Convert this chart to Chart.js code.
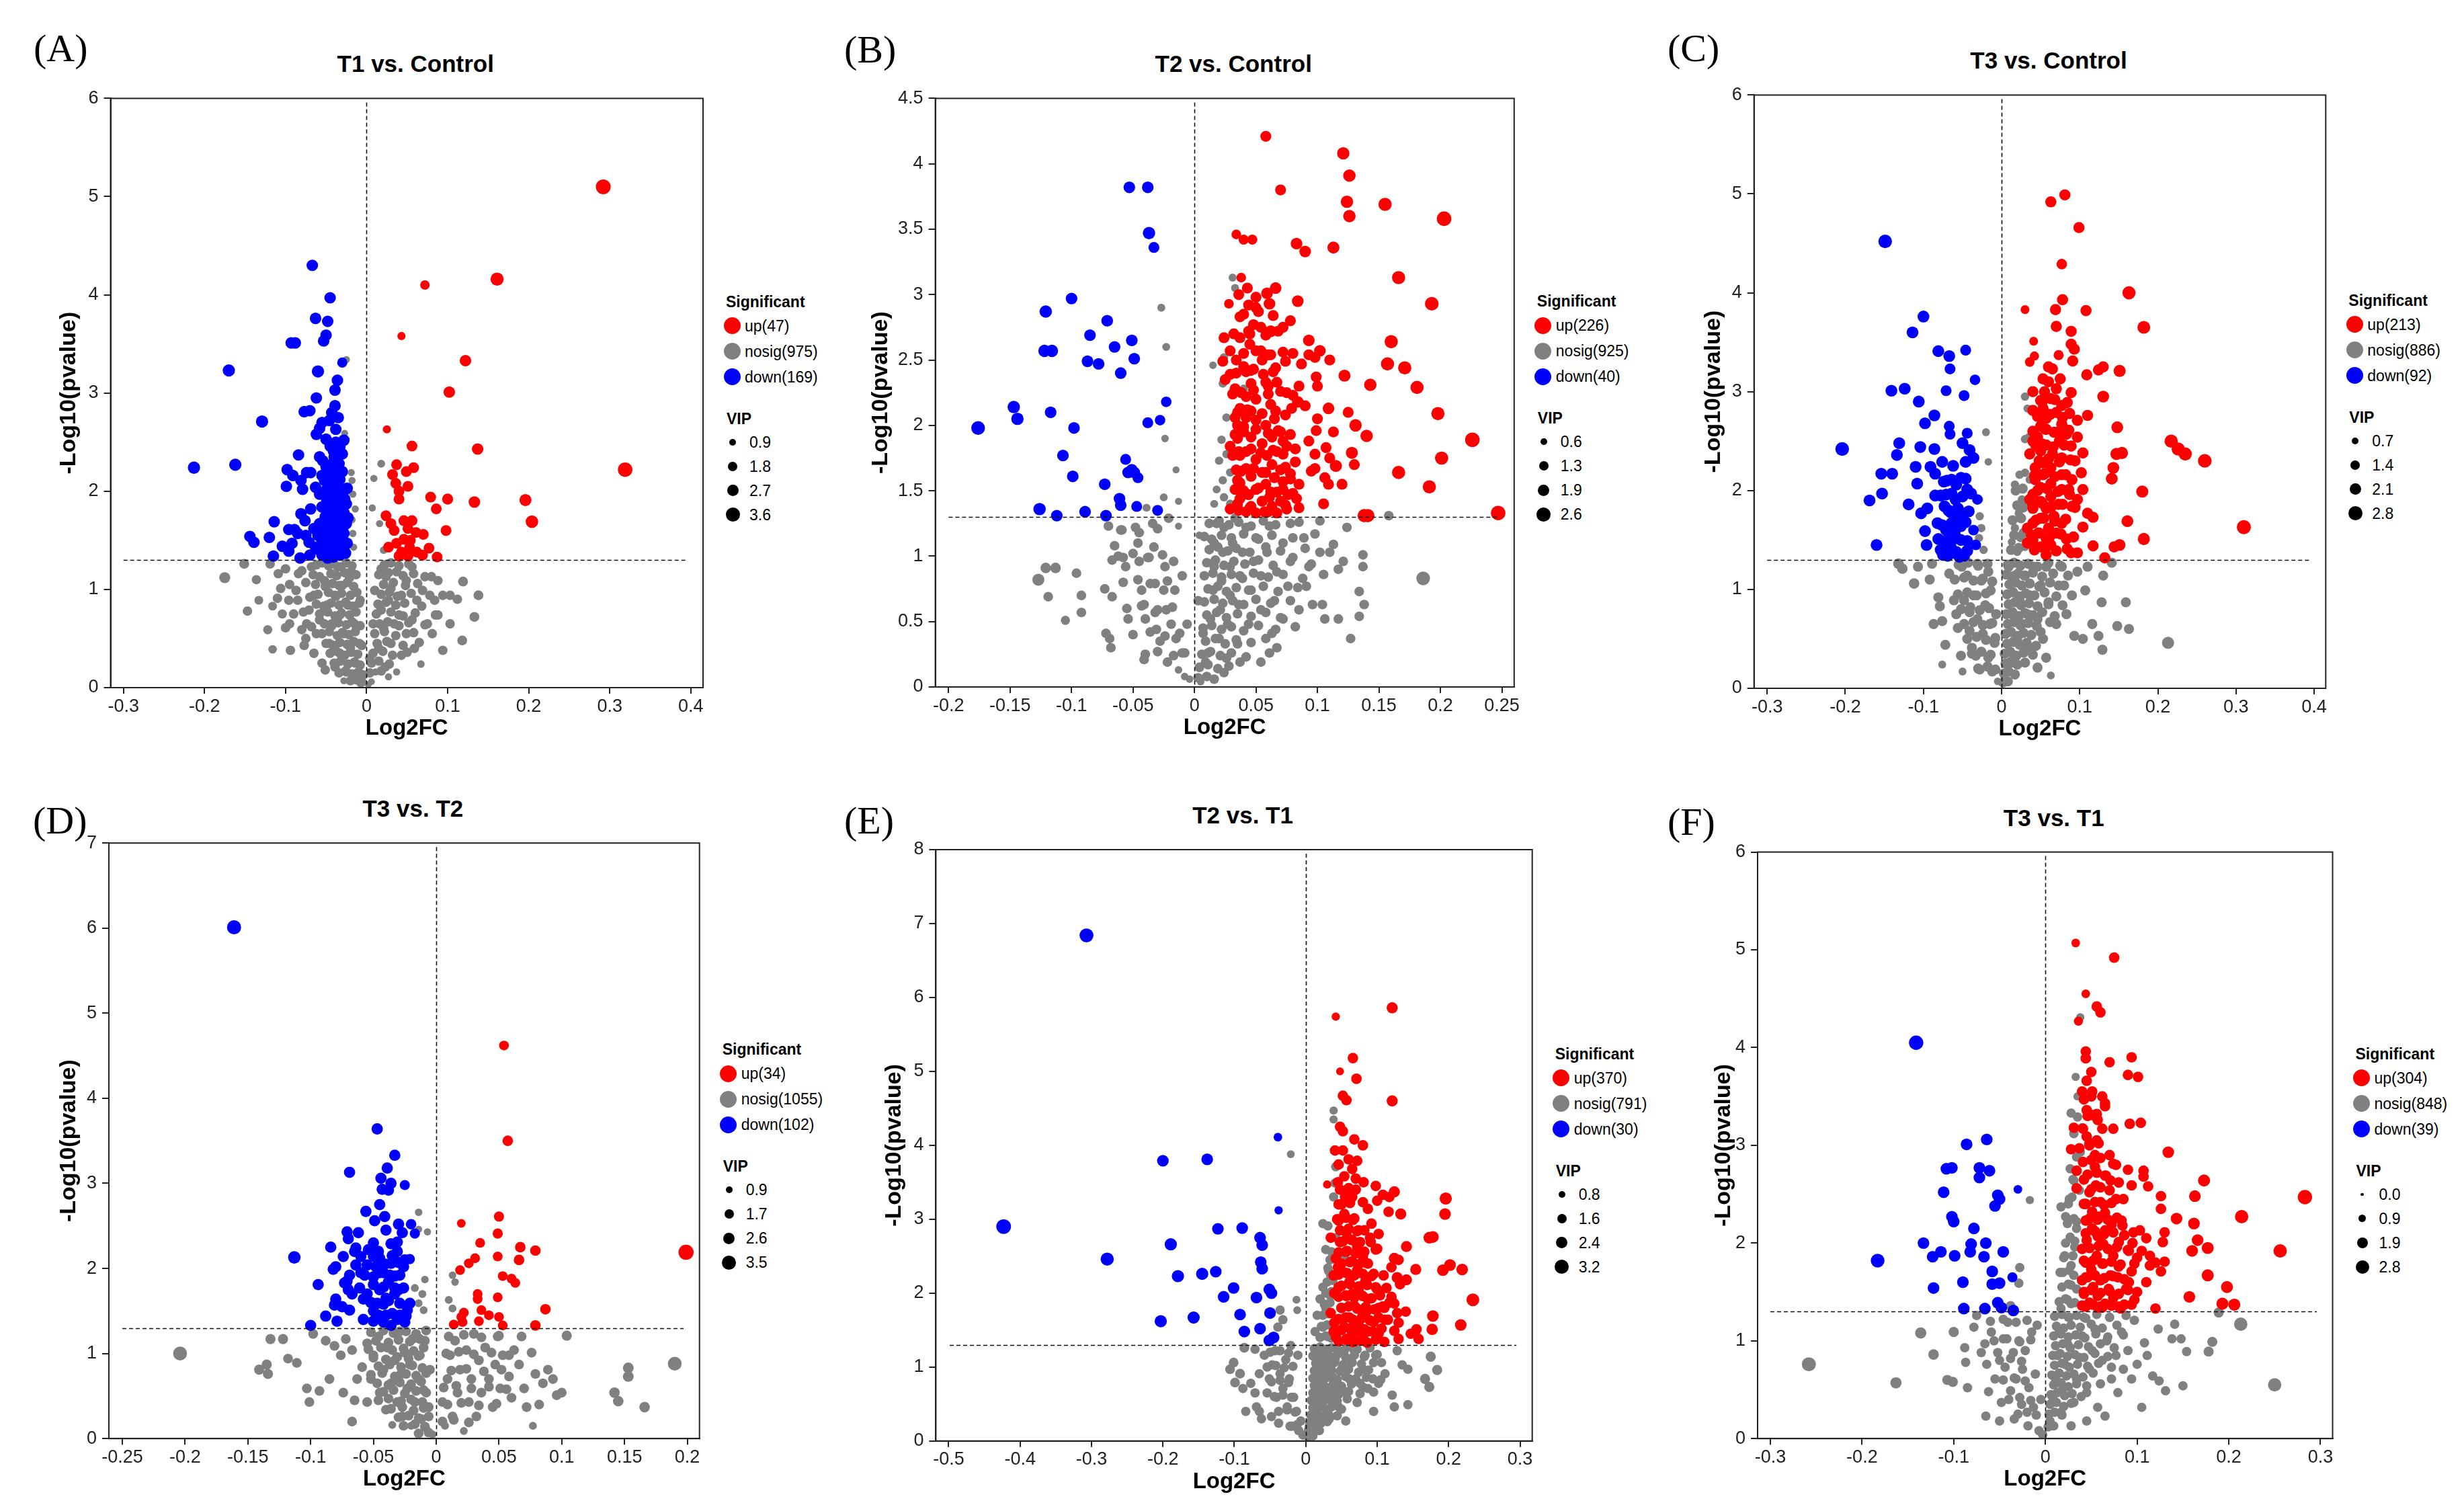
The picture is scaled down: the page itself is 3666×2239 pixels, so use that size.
<!DOCTYPE html>
<html><head><meta charset="utf-8">
<script src="https://cdn.jsdelivr.net/npm/chart.js@4.4.1/dist/chart.umd.min.js"></script>
<style>
html,body{margin:0;padding:0;background:#fff;}
body{width:3666px;height:2239px;position:relative;overflow:hidden;font-family:"Liberation Sans",Arial,sans-serif;}
.abs{position:absolute;white-space:nowrap;}
.letter{font-family:"Liberation Serif","Times New Roman",serif;font-size:58px;line-height:60px;height:60px;color:#000;}
.ptitle{font-weight:bold;font-size:35px;line-height:40px;height:40px;color:#000;transform:translateX(-50%);}
.lg{font-size:23px;line-height:28px;height:28px;color:#000;}
.lgb{font-weight:bold;}
.dot{position:absolute;border-radius:50%;}
canvas{position:absolute;}
</style></head><body>
<script>
// ---------------- DATA ----------------
// points: [log2FC, -log10(pvalue), VIP (optional, default per group)]
const A_up = [[0.292,5.10,3.3],[0.161,4.16,2.8],[0.072,4.10,1.5],[0.043,3.58,1.1],[0.122,3.33,2.2],[0.102,3.01,2.2],[0.025,2.63,1.1],[0.056,2.46],[0.137,2.43,2.2],[0.319,2.22,3.2],[0.037,2.27],[0.058,2.24],[0.032,2.17],[0.049,2.20],[0.036,2.08],[0.051,2.05],[0.040,2.00],[0.079,1.94],[0.100,1.92,2.0],[0.133,1.89,2.2],[0.196,1.91,2.4],[0.040,1.92],[0.086,1.82],[0.204,1.69,2.6],[0.024,1.75],[0.030,1.67],[0.046,1.70],[0.056,1.70],[0.034,1.60],[0.051,1.62],[0.061,1.58],[0.070,1.56],[0.098,1.60],[0.046,1.51],[0.054,1.50],[0.027,1.43],[0.053,1.43],[0.077,1.42],[0.043,1.38],[0.040,1.34],[0.051,1.34],[0.069,1.35],[0.087,1.33],[0.062,1.38],[0.037,1.47]];
const A_down = [[-0.067,4.30],[-0.045,3.97],[-0.063,3.76],[-0.048,3.73],[-0.050,3.59],[-0.053,3.53],[-0.093,3.51],[-0.088,3.51],[-0.030,3.31,1.7],[-0.170,3.23,2.5],[-0.060,3.22,2.5],[-0.036,3.13],[-0.039,3.03],[-0.062,2.95],[-0.039,2.87],[-0.077,2.81],[-0.070,2.82],[-0.043,2.80],[-0.035,2.75],[-0.129,2.71,2.5],[-0.055,2.70],[-0.046,2.72],[-0.058,2.64],[-0.038,2.63],[-0.062,2.58],[-0.050,2.53],[-0.028,2.52],[-0.038,2.50],[-0.033,2.45],[-0.041,2.41],[-0.084,2.37],[-0.058,2.35],[-0.030,2.38],[-0.213,2.24,2.5],[-0.162,2.27,2.5],[-0.098,2.22],[-0.044,2.27],[-0.036,2.23],[-0.091,2.16],[-0.074,2.19],[-0.069,2.19],[-0.055,2.16],[-0.043,2.19],[-0.030,2.20],[-0.081,2.11],[-0.052,2.11],[-0.033,2.12],[-0.099,2.05],[-0.079,2.02],[-0.063,2.04],[-0.046,2.06],[-0.036,2.05],[-0.028,2.00],[-0.058,1.97],[-0.043,1.97],[-0.049,1.91],[-0.036,1.92],[-0.027,1.92],[-0.069,1.82],[-0.055,1.84],[-0.043,1.86],[-0.033,1.83],[-0.081,1.77],[-0.046,1.78],[-0.036,1.76],[-0.028,1.78],[-0.114,1.69],[-0.076,1.70],[-0.058,1.67],[-0.039,1.70],[-0.032,1.66],[-0.096,1.61],[-0.089,1.61],[-0.052,1.62],[-0.043,1.62],[-0.030,1.61],[-0.144,1.54],[-0.139,1.48],[-0.120,1.53],[-0.085,1.57],[-0.046,1.55],[-0.036,1.54],[-0.071,1.48],[-0.055,1.50],[-0.039,1.48],[-0.030,1.49],[-0.104,1.44],[-0.092,1.47],[-0.063,1.43],[-0.049,1.43],[-0.036,1.42],[-0.028,1.43],[-0.096,1.39],[-0.115,1.34],[-0.082,1.32],[-0.055,1.35],[-0.043,1.34],[-0.033,1.35],[-0.046,1.40],[-0.040,1.50],[-0.045,1.65],[-0.035,1.80],[-0.040,1.95],[-0.050,1.75],[-0.045,1.45],[-0.038,1.38],[-0.042,1.60],[-0.048,1.90],[-0.052,1.52],[-0.035,1.62],[-0.032,1.48],[-0.044,2.10],[-0.050,2.25],[-0.040,2.35],[-0.055,1.68],[-0.060,1.55],[-0.065,1.62],[-0.058,1.40],[-0.070,1.35],[-0.075,1.55],[-0.048,1.32]];
const A_downDense = [[-0.050,1.36],[-0.041,1.33],[-0.026,1.37],[-0.052,1.46],[-0.034,1.44],[-0.024,1.47],[-0.049,1.56],[-0.041,1.54],[-0.028,1.57],[-0.046,1.66],[-0.038,1.64],[-0.025,1.67],[-0.051,1.74],[-0.031,1.77],[-0.023,1.73],[-0.047,1.86],[-0.039,1.84],[-0.025,1.87],[-0.050,2.01],[-0.033,1.98],[-0.024,2.03],[-0.048,2.16],[-0.038,2.13],[-0.054,2.31],[-0.034,2.28],[-0.045,2.46]];
const A_nosig = [[-0.175,1.12,2.0],[-0.151,1.26,1.6],[-0.136,1.10,1.4],[-0.147,0.78,1.5],[-0.133,0.89,1.3],[-0.122,0.59,1.4],[-0.116,0.39,1.2],[-0.116,0.83,1.3],[-0.104,0.75,1.4],[-0.106,1.01],[-0.119,1.26],[-0.109,1.16],[-0.095,0.65],[-0.094,0.38],[-0.096,0.89],[-0.087,0.99],[-0.084,1.16],[-0.077,0.43],[-0.074,0.65],[-0.071,0.79],[-0.065,0.94],[-0.068,1.23],[-0.062,0.55],[-0.055,0.25],[-0.058,0.69],[-0.052,1.09],[-0.049,0.84],[-0.046,0.45],[-0.043,0.65],[-0.039,0.21],[-0.039,0.94],[-0.036,1.23],[-0.033,0.35],[-0.033,0.74],[-0.030,1.04],[-0.028,0.55],[-0.025,0.16],[-0.023,0.84],[-0.020,0.40],[-0.019,1.18],[-0.015,0.65],[-0.014,0.25],[-0.011,0.11,0.8],[-0.009,0.45],[-0.008,0.89],[-0.004,0.06,0.7],[-0.028,0.07,0.8],[-0.051,0.18],
[-0.025,3.34,0.8],[-0.027,2.59,0.7],[-0.019,2.19,0.8],[-0.018,2.11,0.8],[-0.017,1.97,0.8],[-0.014,1.82,0.8],[-0.018,1.71,0.8],[-0.017,1.57,0.8],[-0.016,1.43,0.8],
[0.018,2.28,1.0],[0.009,2.13,0.8],[0.007,1.83,0.8],[0.022,1.76,0.9],[0.016,1.67,0.8],[0.021,1.40,0.9],
[0.018,1.21],[0.024,1.13],[0.030,1.01],[0.037,1.18],[0.043,0.94],[0.049,1.09],[0.056,1.23],[0.062,0.89],[0.069,0.99],[0.080,1.13],[0.088,1.09],[0.084,0.89],[0.094,0.94],[0.103,0.94],[0.112,0.90],[0.119,1.08,1.6],[0.138,0.94,1.6],[0.133,0.72,1.6],[0.118,0.48,1.6],[0.103,0.65],[0.094,0.38],[0.088,0.74],[0.081,0.55],[0.075,0.65],[0.067,0.24,0.9],[0.059,0.40],[0.056,0.69],[0.049,0.55],[0.043,0.33],[0.040,0.74],[0.034,0.65],[0.030,0.45],[0.027,0.89],[0.023,0.21],[0.021,0.60],[0.018,0.79],[0.015,0.40],[0.011,0.16,0.8],[0.010,0.99],[0.008,0.65],[0.006,0.06,0.7],[0.004,0.30],[0.002,0.03,0.7],[0.027,0.11,0.8],[0.037,0.16,0.8]];
const A_nosigDense = [[-0.062,1.25],[-0.055,1.27],[-0.047,1.24],[-0.040,1.26],[-0.032,1.23],[-0.025,1.27],[-0.018,1.24],[-0.066,1.15],[-0.058,1.13],[-0.044,1.16],[-0.037,1.14],[-0.027,1.17],[-0.021,1.12],[-0.013,1.15],[-0.063,1.05],[-0.051,1.03],[-0.042,1.06],[-0.034,1.04],[-0.024,1.07],[-0.016,1.03],[-0.060,0.95],[-0.047,0.97],[-0.038,0.93],[-0.031,0.96],[-0.020,0.94],[-0.012,0.97],[-0.062,0.85],[-0.053,0.83],[-0.044,0.86],[-0.034,0.84],[-0.026,0.87],[-0.017,0.83],[-0.009,0.86],[-0.058,0.75],[-0.048,0.77],[-0.039,0.73],[-0.031,0.76],[-0.021,0.74],[-0.013,0.77],[-0.052,0.65],[-0.043,0.63],[-0.035,0.66],[-0.025,0.64],[-0.018,0.67],[-0.008,0.63],[-0.055,0.55],[-0.046,0.57],[-0.036,0.53],[-0.030,0.56],[-0.022,0.54],[-0.014,0.57],[-0.050,0.45],[-0.041,0.43],[-0.033,0.46],[-0.024,0.44],[-0.016,0.47],[-0.006,0.43],[-0.045,0.35],[-0.037,0.37],[-0.027,0.33],[-0.019,0.36],[-0.011,0.34],[-0.040,0.25],[-0.032,0.27],[-0.023,0.24],[-0.015,0.26],[-0.008,0.23],[-0.034,0.15],[-0.026,0.17],[-0.018,0.14],[-0.010,0.16],[-0.004,0.13],[-0.020,0.07],[-0.013,0.08],[-0.007,0.05],
[0.022,1.25],[0.030,1.27],[0.040,1.24],[0.052,1.26],[0.015,1.15],[0.027,1.17],[0.045,1.14],[0.058,1.16],[0.072,1.13],[0.021,1.05],[0.033,1.07],[0.048,1.04],[0.063,1.06],[0.018,0.95],[0.028,0.97],[0.038,0.93],[0.055,0.96],[0.078,0.94],[0.014,0.85],[0.024,0.87],[0.036,0.84],[0.047,0.86],[0.068,0.83],[0.012,0.75],[0.030,0.77],[0.045,0.73],[0.060,0.76],[0.085,0.74],[0.016,0.65],[0.026,0.67],[0.040,0.63],[0.052,0.66],[0.072,0.64],[0.010,0.55],[0.022,0.57],[0.036,0.53],[0.058,0.56],[0.013,0.45],[0.025,0.47],[0.045,0.43],[0.065,0.46],[0.008,0.35],[0.020,0.37],[0.032,0.33],[0.050,0.36],[0.006,0.25],[0.015,0.27],[0.028,0.24],[0.004,0.15],[0.018,0.17],
[-0.100,1.21],[-0.080,1.19],[-0.095,1.05],[-0.075,1.07],[-0.110,0.91],[-0.085,0.89],[-0.070,0.92],[-0.090,0.75],[-0.078,0.77],[-0.100,0.61],[-0.080,0.59],[-0.068,0.62],[-0.075,0.50],[-0.065,0.35]];

const B_up = [[0.058,4.21],[0.121,4.08,1.8],[0.126,3.91,1.8],[0.070,3.80],[0.124,3.71,1.8],[0.155,3.69,2.0],[0.126,3.60,1.8],[0.203,3.58,2.3],[0.034,3.46,1.1],[0.040,3.42,1.2],[0.047,3.42,1.2],[0.083,3.39,1.6],[0.090,3.33,1.6],[0.113,3.36,1.7],[0.038,3.13,1.1],[0.166,3.13,2.0],[0.043,3.05],[0.066,3.05,1.6],[0.059,3.01,1.6],[0.193,2.93,2.1],[0.028,2.93,1.1],[0.044,2.92],[0.061,2.93,1.6],[0.084,2.95,1.6],[0.037,2.83],[0.078,2.80],[0.048,2.77],[0.054,2.75],[0.062,2.72,1.6],[0.068,2.72],[0.072,2.75],[0.024,2.67],[0.037,2.67],[0.093,2.65,1.6],[0.160,2.64,2.0],[0.045,2.62],[0.054,2.57],[0.102,2.57,1.6],[0.060,2.54],[0.093,2.54],[0.098,2.52],[0.034,2.50],[0.023,2.49],[0.074,2.49],[0.087,2.47],[0.157,2.47,2.0],[0.171,2.44,2.0],[0.066,2.44],[0.042,2.41],[0.029,2.39],[0.099,2.37],[0.122,2.38,1.7],[0.025,2.35],[0.058,2.33],[0.067,2.33],[0.046,2.32],[0.143,2.31,1.8],[0.181,2.29,2.0],[0.033,2.28],[0.031,2.24],[0.042,2.22],[0.050,2.20],[0.084,2.18,1.6],[0.062,2.16],[0.079,2.13],[0.109,2.13,1.6],[0.037,2.13],[0.046,2.11],[0.198,2.09,2.0],[0.100,2.05],[0.042,2.06],[0.033,2.06],[0.050,2.04],[0.058,2.00],[0.131,2.00,1.8],[0.040,1.99],[0.099,1.96],[0.113,1.95],[0.140,1.92,1.8],[0.226,1.89,2.3],[0.033,1.93],[0.046,1.91],[0.063,1.91],[0.072,1.88],[0.093,1.88],[0.055,1.86],[0.075,1.84],[0.107,1.83],[0.042,1.80],[0.067,1.80],[0.037,1.77],[0.098,1.78],[0.128,1.79,1.7],[0.059,1.77],[0.050,1.74],[0.201,1.75,2.0],[0.082,1.72],[0.115,1.69,1.7],[0.098,1.67],[0.063,1.70],[0.074,1.68],[0.042,1.67],[0.034,1.66],[0.055,1.64],[0.166,1.64,2.0],[0.046,1.61],[0.065,1.60],[0.078,1.59],[0.106,1.60],[0.037,1.56],[0.109,1.55],[0.058,1.55],[0.072,1.57],[0.191,1.53,2.0],[0.033,1.51],[0.050,1.51],[0.067,1.49],[0.044,1.47],[0.061,1.45],[0.076,1.47],[0.037,1.44],[0.055,1.42],[0.070,1.42],[0.083,1.44],[0.046,1.38],[0.063,1.38],[0.074,1.39],[0.085,1.37],[0.042,1.34],[0.057,1.34],[0.067,1.33],[0.138,1.31,2.0],[0.141,1.31,2.0],[0.247,1.33,2.3],[0.050,1.33],[0.035,1.40],[0.029,1.36],[0.035,1.58],[0.031,1.77],[0.035,1.90],[0.029,1.84],[0.048,2.43],[0.029,2.57]];
const B_upDense = [[0.036,1.35],[0.045,1.37],[0.060,1.34],[0.075,1.36],[0.040,1.50],[0.052,1.52],[0.062,1.49],[0.072,1.51],[0.080,1.48],[0.038,1.65],[0.048,1.67],[0.058,1.64],[0.070,1.66],[0.078,1.63],[0.036,1.80],[0.046,1.82],[0.054,1.79],[0.064,1.81],[0.072,1.78],[0.082,1.82],[0.040,1.95],[0.050,1.97],[0.060,1.94],[0.068,1.96],[0.078,1.93],[0.035,2.10],[0.043,2.12],[0.055,2.09],[0.066,2.11],[0.074,2.08],[0.038,2.25],[0.048,2.27],[0.060,2.24],[0.070,2.26],[0.080,2.23],[0.034,2.40],[0.046,2.42],[0.056,2.39],[0.064,2.41],[0.040,2.55],[0.050,2.57],[0.062,2.54],[0.072,2.56],[0.032,2.70],[0.044,2.72],[0.058,2.69],[0.040,2.85],[0.052,2.87],[0.064,2.84],[0.036,3.00],[0.050,2.98],
[0.035,2.00],[0.040,2.45],[0.045,2.70],[0.050,2.90],[0.055,2.50],[0.060,2.30],[0.065,2.05],[0.070,1.95],[0.075,2.25],[0.080,2.55],[0.085,2.30],[0.090,2.15],[0.095,1.65],[0.105,1.40],[0.110,1.75],[0.120,1.55],[0.100,2.30],[0.110,2.50],[0.125,2.10],[0.130,1.70],[0.085,1.55]];
const B_down = [[-0.053,3.82],[-0.038,3.82],[-0.037,3.47,1.8],[-0.033,3.36,1.4],[-0.100,2.97],[-0.121,2.87,1.8],[-0.071,2.80],[-0.085,2.69],[-0.065,2.60],[-0.051,2.65],[-0.122,2.57,1.8],[-0.116,2.57,1.8],[-0.087,2.49],[-0.078,2.47],[-0.049,2.51],[-0.060,2.40],[-0.023,2.18,1.3],[-0.147,2.14,1.8],[-0.144,2.05,1.8],[-0.117,2.10],[-0.028,2.04,1.3],[-0.038,2.02,1.4],[-0.176,1.98,2.1],[-0.098,1.98],[-0.107,1.77],[-0.056,1.74,1.4],[-0.051,1.66],[-0.049,1.64],[-0.046,1.60,1.4],[-0.099,1.61],[-0.073,1.55],[-0.061,1.44],[-0.060,1.39],[-0.047,1.38,1.4],[-0.126,1.36,1.8],[-0.089,1.34],[-0.030,1.35,1.4],[-0.112,1.31],[-0.072,1.31],[-0.054,1.64]];
const B_nosig = [[0.031,3.13,0.7],[0.033,3.05,0.7],[-0.027,2.90,0.7],[-0.023,2.60,0.7],[-0.024,1.90,0.6],[-0.015,1.66,0.5],[-0.013,1.42,0.5],[-0.025,1.45,0.7],[-0.013,1.23,0.5],[-0.039,1.37,0.7],
[0.015,2.46,0.6],[0.024,2.52,0.8],[0.023,2.32,0.8],[0.026,2.06,0.8],[0.022,1.89,0.8],[0.026,1.78,0.8],[0.020,1.73,0.8],[0.029,1.64,0.8],[0.023,1.58,0.8],[0.018,1.51,0.7],[0.024,1.45,0.8],[0.016,1.40,0.7],[0.029,1.40,0.8],[0.040,2.28,0.8],
[-0.127,0.82,1.7],[-0.121,0.91,1.3],[-0.113,0.91,1.3],[-0.119,0.69,1.1],[-0.096,0.87,1.1],[-0.105,0.51,1.0],[-0.092,0.70],[-0.092,0.57],[-0.073,0.75],[-0.072,0.41],[-0.067,0.97],[-0.065,1.08],[-0.067,0.69],[-0.069,0.37],[-0.068,0.30],[-0.059,1.20],[-0.070,1.23],[-0.058,0.99],[-0.056,0.92],[-0.054,0.52],[-0.048,1.22],[-0.046,1.10],[-0.045,0.96],[-0.043,0.74],[-0.041,0.63],[-0.040,0.52],[-0.041,0.21],[-0.037,0.99],[-0.034,1.25],[-0.033,1.07],[-0.032,0.79],[-0.032,0.57],[-0.031,0.44],[-0.028,0.35],[-0.025,0.74],[-0.024,0.92],[-0.023,0.59],[-0.022,0.19],[-0.019,0.48],[-0.017,0.96],[-0.016,0.74],[-0.015,0.37],[-0.013,0.13,0.6],[-0.010,0.26],[-0.008,0.08,0.6],[-0.006,0.48],[-0.004,0.06,0.6],[-0.010,0.85],[-0.021,1.29],
[0.004,1.16,0.6],[0.003,0.66],[0.007,0.41],[0.009,0.19],[0.005,0.04,0.6],[0.011,0.26],[0.013,0.52],[0.015,0.74],[0.016,0.92],[0.016,1.10],[0.018,1.25],[0.020,0.37],[0.021,0.59],[0.022,0.81],[0.023,1.03],[0.024,1.22],[0.026,0.22],[0.027,0.48],[0.029,0.70],[0.029,0.92],[0.031,1.10],[0.033,1.29],[0.035,0.33],[0.036,0.63],[0.037,0.85],[0.039,1.03],[0.042,1.22],[0.044,0.48],[0.046,0.74],[0.048,0.96],[0.050,1.14],[0.054,0.59],[0.054,0.85],[0.059,1.03],[0.061,1.23],[0.063,0.41],[0.065,0.66],[0.067,0.88],[0.072,1.10],[0.076,0.77],[0.078,1.25],[0.080,0.99],[0.085,0.59],[0.089,1.14],[0.091,0.77],[0.093,0.92],[0.102,1.27],[0.102,1.03],[0.104,0.63],[0.106,0.52],[0.113,1.09],[0.117,0.90],[0.121,0.96],[0.124,1.22],[0.127,0.37],[0.134,0.73],[0.137,1.01],[0.137,0.92],[0.138,0.63],[0.134,0.54],[0.158,1.31],[0.186,0.83,2.1],[0.117,0.52],[0.067,0.30],[0.054,0.19],[0.037,0.19],[0.024,0.11],[0.061,0.26],[0.072,0.52]];
const B_nosigDense = [[0.012,1.25],[0.020,1.27],[0.028,1.24],[0.036,1.26],[0.046,1.23],[0.056,1.27],[0.066,1.24],[0.085,1.26],[0.008,1.15],[0.014,1.13],[0.022,1.16],[0.030,1.14],[0.040,1.17],[0.052,1.13],[0.063,1.16],[0.080,1.14],[0.098,1.17],[0.012,1.05],[0.019,1.07],[0.027,1.04],[0.034,1.06],[0.045,1.03],[0.058,1.07],[0.070,1.04],[0.090,1.06],[0.110,1.03],[0.010,0.95],[0.017,0.97],[0.024,0.93],[0.032,0.96],[0.041,0.94],[0.052,0.97],[0.064,0.93],[0.078,0.96],[0.095,0.94],[0.008,0.85],[0.015,0.87],[0.022,0.84],[0.030,0.86],[0.039,0.83],[0.048,0.87],[0.060,0.84],[0.072,0.86],[0.088,0.83],[0.105,0.86],[0.011,0.75],[0.019,0.77],[0.026,0.73],[0.034,0.76],[0.044,0.74],[0.056,0.77],[0.068,0.73],[0.084,0.76],[0.008,0.65],[0.016,0.67],[0.023,0.64],[0.031,0.66],[0.040,0.63],[0.050,0.67],[0.062,0.64],[0.078,0.66],[0.096,0.63],[0.010,0.55],[0.018,0.57],[0.026,0.53],[0.035,0.56],[0.046,0.54],[0.058,0.57],[0.070,0.53],[0.007,0.45],[0.014,0.47],[0.022,0.44],[0.030,0.46],[0.040,0.43],[0.052,0.47],[0.066,0.44],[0.082,0.46],[0.009,0.35],[0.017,0.37],[0.025,0.33],[0.034,0.36],[0.046,0.34],[0.058,0.37],[0.006,0.25],[0.013,0.27],[0.021,0.24],[0.030,0.26],[0.042,0.23],[0.004,0.15],[0.011,0.17],[0.019,0.14],[0.028,0.16],[0.003,0.07],[0.010,0.08],[0.016,0.06],
[-0.060,1.20],[-0.045,1.18],[-0.030,1.21],[-0.062,1.00],[-0.050,1.02],[-0.038,0.99],[-0.026,1.01],[-0.058,0.80],[-0.046,0.82],[-0.036,0.79],[-0.022,0.81],[-0.055,0.60],[-0.043,0.62],[-0.030,0.59],[-0.018,0.61],[-0.050,0.40],[-0.036,0.42],[-0.024,0.39],[-0.012,0.41],[-0.040,0.25],[-0.030,0.27],[-0.017,0.24],[-0.008,0.26]];

const C_up = [[0.063,4.92],[0.081,4.99],[0.099,4.66],[0.077,4.29,1.4],[0.163,4.00,2.2],[0.030,3.83,1.0],[0.069,3.83],[0.078,3.93],[0.108,3.82],[0.182,3.65,2.1],[0.070,3.66],[0.089,3.61],[0.041,3.51,1.0],[0.089,3.48],[0.093,3.43],[0.073,3.37,1.3],[0.042,3.36,1.1],[0.036,3.30,1.2],[0.091,3.31],[0.065,3.23],[0.124,3.22],[0.130,3.25],[0.151,3.21,1.9],[0.109,3.17],[0.053,3.13],[0.075,3.13],[0.060,3.10],[0.040,3.00],[0.070,3.03],[0.089,2.99],[0.130,2.95,1.8],[0.050,2.91],[0.063,2.93],[0.077,2.86],[0.053,2.83],[0.040,2.81],[0.070,2.79],[0.087,2.78],[0.110,2.76],[0.057,2.73],[0.097,2.71],[0.050,2.65],[0.077,2.67],[0.148,2.64,1.8],[0.057,2.62],[0.067,2.59],[0.046,2.54],[0.083,2.57],[0.097,2.54],[0.040,2.50],[0.074,2.50],[0.217,2.50,2.2],[0.226,2.42,2.2],[0.235,2.37,2.2],[0.260,2.30,2.3],[0.057,2.46],[0.089,2.45],[0.050,2.40],[0.036,2.37],[0.065,2.37],[0.104,2.38],[0.147,2.37,1.9],[0.154,2.38,1.9],[0.077,2.33],[0.053,2.28],[0.094,2.30],[0.043,2.23],[0.063,2.23],[0.143,2.23,1.8],[0.102,2.18],[0.053,2.16],[0.077,2.16],[0.141,2.12,1.8],[0.043,2.11],[0.090,2.11],[0.063,2.07],[0.050,2.03],[0.077,2.01],[0.104,2.01],[0.180,1.99,1.9],[0.040,1.96],[0.063,1.94],[0.087,1.96],[0.097,1.91],[0.050,1.89],[0.073,1.86],[0.040,1.82],[0.057,1.82],[0.090,1.84],[0.110,1.77],[0.067,1.74],[0.050,1.72],[0.117,1.73],[0.161,1.69,1.8],[0.040,1.67],[0.077,1.67],[0.060,1.62],[0.104,1.63],[0.047,1.57],[0.070,1.57],[0.182,1.51,1.9],[0.057,1.52],[0.083,1.51],[0.040,1.50],[0.063,1.45],[0.117,1.44],[0.151,1.45,1.8],[0.144,1.43],[0.050,1.43],[0.089,1.37],[0.097,1.37],[0.057,1.35],[0.132,1.32],[0.310,1.63,2.4],[0.033,1.62],[0.036,1.91],[0.033,1.47]];
const C_upDense = [[0.042,1.40],[0.056,1.42],[0.070,1.39],[0.084,1.41],[0.038,1.55],[0.048,1.57],[0.062,1.54],[0.076,1.56],[0.092,1.53],[0.044,1.70],[0.054,1.72],[0.068,1.69],[0.082,1.71],[0.040,1.85],[0.052,1.87],[0.064,1.84],[0.078,1.86],[0.094,1.83],[0.046,2.00],[0.058,2.02],[0.072,1.99],[0.086,2.01],[0.042,2.15],[0.055,2.17],[0.068,2.14],[0.082,2.16],[0.048,2.30],[0.060,2.32],[0.074,2.29],[0.088,2.31],[0.044,2.45],[0.052,2.47],[0.066,2.44],[0.080,2.46],[0.040,2.60],[0.056,2.62],[0.072,2.59],[0.086,2.61],[0.046,2.75],[0.062,2.77],[0.078,2.74],[0.052,2.90],[0.068,2.92],[0.084,2.89],[0.055,3.00],[0.060,3.25]];
const C_down = [[-0.149,4.52,2.3],[-0.100,3.76],[-0.114,3.60],[-0.081,3.41],[-0.067,3.36],[-0.046,3.42,1.5],[-0.066,3.23,1.5],[-0.034,3.12,1.4],[-0.141,3.01],[-0.124,3.03],[-0.071,3.01,1.5],[-0.048,2.96,1.5],[-0.106,2.90],[-0.086,2.76],[-0.098,2.68],[-0.067,2.65,1.5],[-0.066,2.57,1.5],[-0.044,2.58,1.5],[-0.131,2.48],[-0.050,2.48],[-0.204,2.42,2.3],[-0.104,2.44],[-0.086,2.42],[-0.041,2.41],[-0.134,2.36],[-0.036,2.33],[-0.076,2.29],[-0.046,2.29],[-0.110,2.24],[-0.091,2.24],[-0.085,2.17],[-0.140,2.17],[-0.154,2.17],[-0.052,2.13],[-0.064,2.11],[-0.074,2.09],[-0.108,2.07],[-0.058,2.06],[-0.044,2.01],[-0.039,1.97],[-0.085,1.95],[-0.071,1.96],[-0.059,1.91],[-0.031,1.91,1.4],[-0.153,1.97],[-0.169,1.90],[-0.119,1.86],[-0.095,1.82],[-0.073,1.84],[-0.065,1.78],[-0.050,1.77],[-0.103,1.77],[-0.058,1.74],[-0.082,1.67],[-0.046,1.68],[-0.071,1.60],[-0.036,1.60,1.4],[-0.098,1.59],[-0.060,1.58],[-0.081,1.51],[-0.052,1.50],[-0.073,1.45],[-0.160,1.45],[-0.096,1.45],[-0.033,1.45,1.4],[-0.065,1.43],[-0.058,1.38],[-0.044,1.39],[-0.069,1.34],[-0.054,1.33],[-0.078,1.40],
[-0.075,1.35],[-0.062,1.37],[-0.048,1.34],[-0.070,1.50],[-0.058,1.52],[-0.044,1.49],[-0.076,1.65],[-0.064,1.67],[-0.052,1.64],[-0.068,1.80],[-0.056,1.82],[-0.042,1.79],[-0.078,1.95],[-0.064,1.97],[-0.050,1.94],[-0.070,2.10],[-0.046,2.12],[-0.062,2.25]];
const C_nosig = [[0.030,2.95,0.9],[0.033,2.83,0.8],[0.035,2.54,0.9],[0.030,2.52,0.9],[0.023,2.16,0.9],[0.030,2.18,0.9],[0.017,2.06,0.9],[0.026,1.91,0.9],[0.022,1.77,0.9],[0.028,1.82,0.9],[0.017,1.62,0.9],[0.024,1.52,0.9],[0.013,1.48,0.8],[0.030,1.43,0.9],[0.020,1.38,0.9],[0.036,2.11,0.9],
[-0.020,2.59,0.8],[-0.017,2.29,0.7],[-0.029,1.91,0.9],[-0.028,1.74,0.9],[-0.026,1.62,0.9],[-0.023,1.40,0.9],[-0.029,1.52,0.9],
[-0.132,1.26,1.4],[-0.127,1.21,1.4],[-0.112,1.06,1.4],[-0.107,1.23],[-0.089,1.26],[-0.092,1.10],[-0.081,0.92],[-0.079,0.83],[-0.076,0.68],[-0.087,0.65],[-0.072,0.44],[-0.076,0.24,0.8],[-0.067,1.16],[-0.061,0.89],[-0.058,0.75],[-0.056,0.61],[-0.051,1.23],[-0.048,0.89],[-0.044,1.14],[-0.041,0.58],[-0.041,0.77],[-0.038,0.41],[-0.036,0.94],[-0.033,0.33],[-0.031,0.70],[-0.028,0.19],[-0.026,1.09],[-0.024,0.55],[-0.021,0.84],[-0.017,0.31],[-0.015,0.65],[-0.014,0.99],[-0.012,0.17],[-0.009,0.46],[-0.007,0.75],[-0.005,0.07,0.7],[-0.052,0.33],[-0.031,1.26],[-0.017,1.18],[-0.050,0.17,0.8],
[0.009,1.23],[0.017,1.14],[0.023,0.89],[0.013,0.75],[0.020,0.50],[0.013,0.26],[0.008,0.07,0.7],[0.026,0.65],[0.030,1.14],[0.036,0.94],[0.035,0.41],[0.040,1.23],[0.046,0.70],[0.050,1.04],[0.053,0.50],[0.057,1.23],[0.060,0.85],[0.063,0.13,0.8],[0.070,0.65],[0.073,1.04],[0.077,1.23],[0.083,0.75],[0.090,0.94],[0.093,0.53],[0.097,1.18],[0.104,0.50],[0.107,0.99],[0.110,1.23],[0.116,0.65],[0.124,0.53],[0.129,0.39],[0.130,1.14],[0.128,0.87],[0.141,1.27],[0.148,0.63],[0.159,0.87],[0.163,0.60],[0.213,0.46,1.9],[0.057,0.31],[0.046,0.21],[0.033,0.75]];
const C_nosigDense = [[0.008,1.25],[0.016,1.27],[0.024,1.24],[0.034,1.26],[0.046,1.23],[0.060,1.27],[0.075,1.24],[0.006,1.15],[0.013,1.13],[0.021,1.16],[0.029,1.14],[0.040,1.17],[0.052,1.13],[0.066,1.16],[0.085,1.14],[0.010,1.05],[0.018,1.07],[0.026,1.04],[0.036,1.06],[0.048,1.03],[0.062,1.07],[0.080,1.04],[0.007,0.95],[0.015,0.97],[0.023,0.93],[0.031,0.96],[0.042,0.94],[0.055,0.97],[0.070,0.93],[0.009,0.85],[0.017,0.87],[0.025,0.84],[0.035,0.86],[0.046,0.83],[0.060,0.87],[0.078,0.84],[0.006,0.75],[0.014,0.77],[0.022,0.73],[0.030,0.76],[0.040,0.74],[0.052,0.77],[0.068,0.73],[0.008,0.65],[0.016,0.67],[0.024,0.64],[0.034,0.66],[0.045,0.63],[0.062,0.67],[0.005,0.55],[0.012,0.57],[0.020,0.53],[0.028,0.56],[0.038,0.54],[0.050,0.57],[0.007,0.45],[0.015,0.47],[0.023,0.44],[0.032,0.46],[0.044,0.43],[0.004,0.35],[0.011,0.37],[0.019,0.33],[0.028,0.36],[0.040,0.34],[0.005,0.25],[0.012,0.27],[0.020,0.24],[0.030,0.26],[0.003,0.15],[0.009,0.17],[0.017,0.14],[0.002,0.06],[0.008,0.07],
[-0.055,1.25],[-0.043,1.27],[-0.030,1.24],[-0.018,1.26],[-0.060,1.10],[-0.048,1.12],[-0.036,1.09],[-0.024,1.11],[-0.012,1.08],[-0.056,0.95],[-0.044,0.97],[-0.032,0.94],[-0.020,0.96],[-0.052,0.80],[-0.040,0.82],[-0.028,0.79],[-0.016,0.81],[-0.048,0.65],[-0.036,0.67],[-0.024,0.64],[-0.012,0.66],[-0.044,0.50],[-0.032,0.52],[-0.020,0.49],[-0.008,0.51],[-0.038,0.35],[-0.026,0.37],[-0.014,0.34],[-0.030,0.20],[-0.018,0.22],[-0.008,0.19],
[0.012,1.40],[0.022,1.42],[0.016,1.55],[0.028,1.57],[0.014,1.70],[0.025,1.72],[0.020,1.85],[0.031,1.87],[0.018,2.00],[0.027,2.02]];

const D_up = [[0.054,4.62,1.5],[0.057,3.50,1.7],[0.050,2.61,1.6],[0.020,2.53,1.2],[0.049,2.41,1.6],[0.035,2.30],[0.067,2.25,1.7],[0.079,2.21,1.7],[0.199,2.19,3.3],[0.049,2.14],[0.066,2.10,1.7],[0.031,2.12],[0.026,2.06],[0.019,1.98],[0.053,1.91],[0.060,1.88],[0.063,1.83],[0.033,1.70],[0.033,1.64],[0.049,1.66],[0.087,1.52,1.7],[0.036,1.51],[0.022,1.48],[0.042,1.45],[0.050,1.43],[0.020,1.43],[0.034,1.38],[0.014,1.34],[0.053,1.33],[0.079,1.33,1.7],[0.021,1.37]];
const D_down = [[-0.161,6.01,3.0],[-0.047,3.64],[-0.033,3.33],[-0.039,3.18],[-0.069,3.13],[-0.044,3.06],[-0.036,3.00],[-0.025,2.98,1.6],[-0.043,2.93],[-0.038,2.92],[-0.056,2.67],[-0.041,2.61],[-0.049,2.56],[-0.030,2.52],[-0.020,2.52,1.7],[-0.027,2.42],[-0.017,2.41,1.6],[-0.062,2.42],[-0.071,2.43],[-0.070,2.35],[-0.031,2.31],[-0.036,2.29],[-0.084,2.25],[-0.064,2.24],[-0.031,2.20],[-0.113,2.13,2.5],[-0.074,2.14],[-0.060,2.14],[-0.050,2.14],[-0.045,2.12],[-0.021,2.11,1.6],[-0.036,2.06],[-0.055,2.04],[-0.064,2.04],[-0.048,2.02],[-0.080,2.02],[-0.082,1.99],[-0.026,2.02],[-0.042,1.95],[-0.069,1.92],[-0.033,1.91],[-0.057,1.92],[-0.029,1.92],[-0.071,1.85],[-0.038,1.84],[-0.094,1.81],[-0.073,1.83],[-0.061,1.77],[-0.050,1.81],[-0.042,1.78],[-0.033,1.77],[-0.067,1.70],[-0.080,1.64],[-0.047,1.59],[-0.042,1.58],[-0.029,1.59],[-0.021,1.59],[-0.081,1.57],[-0.058,1.64],[-0.033,1.70],[-0.023,1.51],[-0.069,1.51],[-0.088,1.44],[-0.040,1.45],[-0.029,1.45],[-0.058,1.40],[-0.079,1.38],[-0.050,1.38],[-0.042,1.37],[-0.100,1.33],[-0.036,1.33],[-0.025,1.37],[-0.031,1.40],
[-0.040,1.65],[-0.045,1.95],[-0.035,2.15],[-0.050,2.30],[-0.055,1.70],[-0.060,1.95],[-0.065,2.20],[-0.070,1.75],[-0.075,1.55],[-0.050,1.50],[-0.030,1.75],[-0.025,2.10],[-0.040,2.45],[-0.045,2.75],
[-0.046,1.45],[-0.035,1.47],[-0.024,1.44],[-0.052,1.60],[-0.038,1.62],[-0.045,1.75],[-0.026,1.77],[-0.050,1.90],[-0.037,1.92],[-0.041,2.05],[-0.030,2.07],[-0.046,2.20],[-0.054,2.22]];
const D_nosig = [[-0.204,1.00,2.9],[-0.141,0.81,1.6],[-0.135,0.87,1.6],[-0.134,0.76,1.6],[-0.132,1.17,1.6],[-0.122,1.17,1.6],[-0.118,0.94,1.5],[-0.111,0.89,1.5],[-0.103,0.59],[-0.101,0.43],[-0.098,1.23],[-0.093,0.56],[-0.088,1.15],[-0.085,0.70],[-0.081,1.09],[-0.076,0.98],[-0.074,0.54],[-0.072,1.17],[-0.067,1.04],[-0.065,0.45],[-0.063,0.70],[-0.059,0.84],[-0.055,0.43],[-0.055,1.12],[-0.052,0.70],[-0.050,0.98],[-0.046,1.20],[-0.045,0.54],[-0.042,0.81],[-0.040,0.34],[-0.039,1.07],[-0.036,0.65],[-0.035,0.16,1.0],[-0.033,0.92],[-0.031,0.43],[-0.029,1.26],[-0.028,0.76],[-0.027,0.26],[-0.025,1.01],[-0.023,0.59],[-0.021,0.87],[-0.020,0.15,1.0],[-0.019,1.17],[-0.017,0.43],[-0.014,0.70],[-0.013,0.98],[-0.012,0.23],[-0.010,0.57],[-0.009,1.15],[-0.008,0.12,1.0],[-0.006,0.37],[-0.005,0.81],[-0.003,0.05,1.0],[-0.067,0.20],
[-0.014,2.66,0.9],[-0.007,2.43,0.8],[-0.014,2.46,0.8],[-0.009,1.87,0.9],[-0.017,1.77,1.0],[-0.011,1.70,1.0],[-0.014,1.59,1.0],[-0.010,1.51,1.0],
[0.013,1.92,0.9],[0.015,1.84,0.9],[0.010,1.63,1.0],[0.013,1.53,1.0],
[0.005,0.43],[0.007,0.15,1.0],[0.009,0.70],[0.011,0.98],[0.013,0.26],[0.015,1.15],[0.017,0.54],[0.019,0.81],[0.022,0.09,1.0],[0.024,1.04],[0.026,0.43],[0.028,0.70],[0.030,1.23],[0.032,0.26],[0.034,0.92],[0.036,0.54],[0.039,1.07],[0.042,0.70],[0.045,0.37],[0.047,0.87],[0.049,1.20],[0.051,0.59],[0.053,0.98],[0.058,0.73],[0.060,0.48],[0.062,1.04],[0.066,0.87],[0.068,1.20],[0.070,0.59],[0.072,0.37],[0.076,1.01],[0.077,0.15,1.0],[0.079,0.76],[0.082,0.40],[0.085,0.65],[0.089,0.81],[0.093,0.70],[0.096,0.51],[0.100,0.54],[0.104,1.21,1.6],[0.142,0.54,1.7],[0.145,0.44,1.7],[0.153,0.83,1.8],[0.153,0.73,1.8],[0.166,0.37,1.7],[0.190,0.88,2.9]];
const D_nosigDense = [[-0.052,1.25],[-0.042,1.27],[-0.034,1.24],[-0.024,1.26],[-0.016,1.23],[-0.008,1.27],[-0.048,1.15],[-0.038,1.13],[-0.030,1.16],[-0.021,1.14],[-0.013,1.17],[-0.054,1.05],[-0.044,1.07],[-0.035,1.04],[-0.026,1.06],[-0.018,1.03],[-0.010,1.07],[-0.050,0.95],[-0.040,0.93],[-0.031,0.96],[-0.022,0.94],[-0.014,0.97],[-0.046,0.85],[-0.037,0.87],[-0.028,0.84],[-0.019,0.86],[-0.011,0.83],[-0.052,0.75],[-0.043,0.77],[-0.033,0.73],[-0.024,0.76],[-0.016,0.74],[-0.008,0.77],[-0.047,0.65],[-0.038,0.63],[-0.029,0.66],[-0.020,0.64],[-0.012,0.67],[-0.042,0.55],[-0.034,0.57],[-0.025,0.53],[-0.016,0.56],[-0.008,0.54],[-0.046,0.45],[-0.038,0.47],[-0.028,0.44],[-0.020,0.46],[-0.011,0.43],[-0.036,0.35],[-0.027,0.37],[-0.018,0.33],[-0.010,0.36],[-0.030,0.25],[-0.022,0.27],[-0.014,0.24],[-0.006,0.26],[-0.026,0.15],[-0.017,0.17],[-0.009,0.14],[-0.014,0.06],[-0.006,0.07],
[0.010,1.20],[0.022,1.22],[0.036,1.19],[0.050,1.21],[0.008,1.00],[0.018,1.02],[0.030,0.99],[0.044,1.01],[0.058,0.98],[0.012,0.80],[0.024,0.82],[0.038,0.79],[0.052,0.81],[0.006,0.60],[0.016,0.62],[0.028,0.59],[0.042,0.61],[0.056,0.58],[0.009,0.40],[0.020,0.42],[0.034,0.39],[0.048,0.41],[0.005,0.20],[0.014,0.22],[0.026,0.19]];

const E_up = [[0.121,5.86,1.8],[0.042,5.74,1.0],[0.066,5.18],[0.048,5.00,0.9],[0.071,4.90],[0.052,4.67],[0.057,4.61],[0.121,4.60,1.8],[0.048,4.25],[0.052,4.19],[0.068,4.08],[0.080,4.00],[0.041,3.93],[0.052,3.93],[0.060,3.81],[0.072,3.79],[0.046,3.74],[0.065,3.68],[0.054,3.58],[0.030,3.47,1.0],[0.070,3.55],[0.081,3.50],[0.098,3.45],[0.196,3.28,2.2],[0.124,3.37,1.8],[0.108,3.33],[0.057,3.36],[0.065,3.30],[0.080,3.23],[0.100,3.25],[0.117,3.30],[0.046,3.20],[0.087,3.14],[0.116,3.10],[0.054,3.07],[0.133,3.07,1.8],[0.195,3.07,2.0],[0.068,3.01],[0.046,2.98],[0.092,2.94],[0.074,2.85],[0.057,2.82],[0.082,2.85],[0.102,2.80],[0.173,2.75,2.0],[0.178,2.76,2.0],[0.065,2.72],[0.048,2.69],[0.091,2.69],[0.072,2.63],[0.141,2.63,1.8],[0.056,2.56],[0.098,2.59],[0.080,2.50],[0.124,2.47,1.8],[0.042,2.47],[0.065,2.43],[0.087,2.40],[0.202,2.38,2.0],[0.219,2.32,2.0],[0.192,2.31,2.0],[0.154,2.32,1.8],[0.072,2.31],[0.054,2.28],[0.095,2.26],[0.109,2.24],[0.128,2.21,1.8],[0.141,2.18,1.8],[0.061,2.15],[0.083,2.15],[0.132,2.12],[0.046,2.08],[0.074,2.04],[0.100,2.05],[0.113,2.07],[0.057,1.96],[0.087,1.92],[0.234,1.91,2.4],[0.117,1.87],[0.124,1.86],[0.068,1.83],[0.102,1.80],[0.050,1.80],[0.128,1.73],[0.080,1.73],[0.061,1.67],[0.178,1.69,2.0],[0.111,1.64],[0.095,1.61],[0.217,1.57,2.0],[0.074,1.57],[0.054,1.54],[0.124,1.49],[0.177,1.51,1.9],[0.155,1.51],[0.087,1.48],[0.147,1.45],[0.065,1.45],[0.102,1.45],[0.158,1.38],[0.130,1.38],[0.042,1.41],[0.080,1.40],[0.057,1.38],[0.035,2.75],[0.039,2.24],[0.035,1.73],[0.039,1.48],[0.065,1.99]];
const E_upDense = [[0.046,1.35],[0.056,1.37],[0.066,1.34],[0.076,1.36],[0.086,1.33],[0.098,1.37],[0.110,1.34],[0.050,1.50],[0.062,1.52],[0.072,1.49],[0.082,1.51],[0.094,1.48],[0.106,1.52],[0.046,1.65],[0.056,1.67],[0.066,1.64],[0.078,1.66],[0.090,1.63],[0.102,1.67],[0.115,1.64],[0.050,1.80],[0.060,1.82],[0.072,1.79],[0.084,1.81],[0.096,1.78],[0.108,1.82],[0.046,1.95],[0.056,1.97],[0.068,1.94],[0.080,1.96],[0.092,1.93],[0.104,1.97],[0.050,2.10],[0.062,2.12],[0.074,2.09],[0.086,2.11],[0.098,2.08],[0.046,2.25],[0.058,2.27],[0.068,2.24],[0.080,2.26],[0.092,2.23],[0.050,2.40],[0.062,2.42],[0.074,2.39],[0.084,2.41],[0.046,2.55],[0.058,2.57],[0.070,2.54],[0.082,2.56],[0.052,2.70],[0.064,2.72],[0.076,2.69],[0.048,2.85],[0.060,2.87],[0.072,2.84],[0.044,3.00],[0.056,3.02],[0.066,2.99],[0.050,3.20],[0.062,3.22],[0.048,3.40],[0.060,3.42],
[0.085,1.75],[0.110,1.80],[0.120,1.95],[0.130,1.60],[0.140,1.75],[0.120,2.35],[0.130,2.45],[0.040,2.00],[0.040,1.60],[0.045,2.35],[0.100,2.60],[0.045,3.50],[0.055,3.30],[0.070,3.40],[0.090,2.75]];
const E_down = [[-0.307,6.84,2.7],[-0.423,2.90,2.9],[-0.039,4.11,1.1],[-0.200,3.79],[-0.138,3.81],[-0.038,3.12,1.0],[-0.089,2.88],[-0.123,2.87],[-0.064,2.75],[-0.189,2.66,2.2],[-0.061,2.65],[-0.278,2.46,2.5],[-0.063,2.42],[-0.061,2.33],[-0.126,2.29],[-0.179,2.23,2.2],[-0.145,2.26,2.2],[-0.101,2.07],[-0.051,2.05],[-0.048,2.00],[-0.115,1.95],[-0.069,1.94],[-0.050,1.73],[-0.092,1.71],[-0.157,1.67,2.2],[-0.203,1.62,2.2],[-0.064,1.52],[-0.086,1.48],[-0.045,1.40],[-0.051,1.36]];
const E_nosig = [[-0.021,3.88,0.9],[0.039,4.47,1.0],[0.039,4.35,1.0],[0.042,3.71],[0.041,3.49],[0.039,3.30],[0.024,2.94],[0.031,2.91],[0.042,2.75],[0.028,2.59],[0.036,2.56],[0.054,2.50],[0.031,2.34],[0.024,2.08],[0.035,2.24],[0.020,1.92],[0.035,1.96],[0.016,1.70],[0.028,1.80],[0.024,1.54],[0.031,1.41],[0.013,1.48],[-0.013,1.91,0.9],[-0.012,1.77,0.9],[-0.032,1.64],[-0.039,1.54],[-0.036,1.77],[-0.047,1.40],
[-0.086,1.26,1.4],[-0.071,1.24],[-0.106,0.97,1.4],[-0.101,1.06,1.4],[-0.099,0.79,1.4],[-0.092,0.91,1.4],[-0.088,0.71],[-0.084,0.40],[-0.077,0.78],[-0.071,0.65],[-0.065,0.91],[-0.069,0.46],[-0.062,0.30],[-0.058,1.16],[-0.054,0.65],[-0.051,0.84],[-0.048,0.33],[-0.047,1.03],[-0.043,1.22],[-0.041,0.59],[-0.038,0.24],[-0.036,0.91],[-0.032,0.71],[-0.028,1.10],[-0.026,0.46],[-0.023,0.84],[-0.021,1.29],[-0.019,0.20],[-0.017,0.59],[-0.013,0.40],[-0.011,1.16],[-0.010,0.14],[-0.007,0.27],[-0.004,0.08],[-0.065,0.40],
[0.005,0.20],[0.009,0.33],[0.013,0.59],[0.014,0.84],[0.016,1.03],[0.019,1.22],[0.022,0.46],[0.024,0.78],[0.028,0.97],[0.030,1.16],[0.033,0.30],[0.035,0.59],[0.037,0.87],[0.041,1.10],[0.044,0.71],[0.046,0.46],[0.050,0.97],[0.054,1.22],[0.056,0.27],[0.057,0.65],[0.061,0.84],[0.065,1.06],[0.068,1.22],[0.072,0.52],[0.076,0.78],[0.080,0.97],[0.083,1.16],[0.087,0.71],[0.095,0.40],[0.094,0.84],[0.098,1.16],[0.102,0.78],[0.106,1.06],[0.111,0.91],[0.121,0.62],[0.124,0.46],[0.128,1.22],[0.135,1.03],[0.143,0.97],[0.143,0.49],[0.167,0.84,1.5],[0.173,0.73,1.5],[0.175,1.14,1.5],[0.184,0.96,1.5],[0.001,0.08],[0.013,0.14]];
const E_nosigDense = [[0.012,1.25],[0.020,1.27],[0.028,1.24],[0.036,1.26],[0.046,1.23],[0.058,1.27],[0.072,1.24],[0.090,1.26],[0.010,1.15],[0.018,1.13],[0.026,1.16],[0.034,1.14],[0.044,1.17],[0.056,1.13],[0.068,1.16],[0.082,1.14],[0.100,1.17],[0.014,1.05],[0.022,1.07],[0.030,1.04],[0.040,1.06],[0.052,1.03],[0.064,1.07],[0.078,1.04],[0.095,1.06],[0.012,0.95],[0.020,0.97],[0.028,0.93],[0.036,0.96],[0.048,0.94],[0.060,0.97],[0.074,0.93],[0.088,0.96],[0.010,0.85],[0.018,0.87],[0.026,0.84],[0.034,0.86],[0.044,0.83],[0.056,0.87],[0.070,0.84],[0.085,0.86],[0.105,0.83],[0.012,0.75],[0.020,0.77],[0.028,0.73],[0.038,0.76],[0.050,0.74],[0.064,0.77],[0.080,0.73],[0.010,0.65],[0.018,0.67],[0.026,0.64],[0.034,0.66],[0.046,0.63],[0.060,0.67],[0.076,0.64],[0.095,0.66],[0.008,0.55],[0.016,0.57],[0.024,0.53],[0.032,0.56],[0.044,0.54],[0.058,0.57],[0.010,0.45],[0.018,0.47],[0.026,0.44],[0.036,0.46],[0.050,0.43],[0.007,0.35],[0.015,0.37],[0.023,0.33],[0.032,0.36],[0.044,0.34],[0.006,0.25],[0.013,0.27],[0.021,0.24],[0.030,0.26],[0.004,0.15],[0.011,0.17],[0.019,0.14],[0.003,0.06],[0.010,0.07],
[0.020,1.40],[0.028,1.42],[0.036,1.39],[0.022,1.55],[0.030,1.57],[0.038,1.54],[0.024,1.70],[0.032,1.72],[0.026,1.85],[0.034,1.87],[0.028,2.00],[0.036,2.02],[0.030,2.15],[0.038,2.17],[0.032,2.30],[0.034,2.45],
[-0.050,1.20],[-0.036,1.22],[-0.024,1.19],[-0.054,1.00],[-0.042,1.02],[-0.030,0.99],[-0.018,1.01],[-0.048,0.80],[-0.036,0.82],[-0.024,0.79],[-0.044,0.60],[-0.032,0.62],[-0.020,0.59],[-0.038,0.40],[-0.026,0.42],[-0.015,0.39],[-0.022,0.20],[-0.012,0.22]];

const F_up = [[0.033,5.07,1.0],[0.075,4.92],[0.044,4.55,1.0],[0.056,4.42],[0.060,4.36],[0.036,4.27,1.1],[0.044,3.96],[0.044,3.89],[0.094,3.90],[0.070,3.85],[0.050,3.75],[0.090,3.72],[0.101,3.70],[0.045,3.66],[0.040,3.55],[0.051,3.55],[0.062,3.50],[0.065,3.43],[0.042,3.47],[0.045,3.36],[0.051,3.31],[0.057,3.26],[0.104,3.23],[0.092,3.22],[0.074,3.17],[0.062,3.17],[0.041,3.17],[0.031,3.18],[0.045,3.09],[0.056,3.05],[0.048,3.02],[0.037,2.97],[0.028,2.96],[0.134,2.93,1.8],[0.070,2.90],[0.054,2.90],[0.041,2.83],[0.074,2.81],[0.077,2.80],[0.054,2.78],[0.090,2.75],[0.107,2.74],[0.034,2.74],[0.065,2.69],[0.107,2.68],[0.042,2.65],[0.173,2.64,1.9],[0.071,2.64],[0.080,2.62],[0.055,2.59],[0.094,2.59],[0.112,2.58],[0.034,2.56],[0.048,2.52],[0.283,2.47,2.6],[0.163,2.48,1.8],[0.126,2.48],[0.077,2.45],[0.060,2.42],[0.126,2.35],[0.042,2.40],[0.051,2.32],[0.065,2.31],[0.057,2.24],[0.214,2.27,2.3],[0.044,2.23],[0.143,2.25,1.8],[0.083,2.23],[0.072,2.19],[0.162,2.20,1.8],[0.051,2.15],[0.065,2.13],[0.096,2.11],[0.103,2.13],[0.084,2.18],[0.130,2.11],[0.057,2.07],[0.045,2.03],[0.166,2.03,1.8],[0.080,2.01],[0.128,2.01],[0.063,1.99],[0.177,1.95,1.9],[0.160,1.92,1.8],[0.256,1.92,2.3],[0.040,1.94],[0.091,1.92],[0.105,1.92],[0.074,1.87],[0.056,1.87],[0.114,1.87],[0.042,1.82],[0.130,1.81],[0.063,1.79],[0.097,1.79],[0.080,1.76],[0.114,1.77],[0.050,1.73],[0.126,1.71],[0.094,1.71],[0.071,1.67],[0.177,1.67,1.9],[0.044,1.65],[0.079,1.65],[0.060,1.62],[0.091,1.60],[0.052,1.55],[0.198,1.55,1.9],[0.069,1.53],[0.088,1.53],[0.042,1.48],[0.057,1.46],[0.074,1.44],[0.157,1.45,1.8],[0.097,1.42],[0.048,1.39],[0.065,1.38],[0.086,1.37],[0.193,1.38,1.9],[0.206,1.37,1.9],[0.120,1.33],[0.057,1.34],[0.040,1.62],[0.040,1.36]];
const F_upDense = [[0.044,1.35],[0.052,1.37],[0.062,1.34],[0.072,1.36],[0.082,1.33],[0.094,1.37],[0.042,1.50],[0.050,1.52],[0.060,1.49],[0.070,1.51],[0.080,1.48],[0.090,1.52],[0.046,1.65],[0.054,1.67],[0.064,1.64],[0.074,1.66],[0.086,1.63],[0.044,1.80],[0.052,1.82],[0.062,1.79],[0.072,1.81],[0.082,1.78],[0.048,1.95],[0.058,1.97],[0.068,1.94],[0.078,1.96],[0.090,1.93],[0.044,2.10],[0.054,2.12],[0.064,2.09],[0.074,2.11],[0.086,2.08],[0.048,2.25],[0.058,2.27],[0.068,2.24],[0.078,2.26],[0.044,2.40],[0.054,2.42],[0.064,2.39],[0.072,2.41],[0.050,2.55],[0.060,2.57],[0.070,2.54],[0.046,2.70],[0.056,2.72],[0.066,2.69],[0.050,2.85],[0.060,2.87],[0.048,3.00],[0.058,3.02],[0.046,3.30],[0.056,3.32],
[0.100,1.85],[0.110,2.05],[0.085,2.45],[0.095,2.00],[0.100,1.50],[0.110,1.60],[0.120,1.80],[0.065,3.40],[0.050,3.50],[0.060,1.35],[0.080,1.35]];
const F_down = [[-0.141,4.05,2.6],[-0.064,3.06],[-0.086,3.01],[-0.108,2.76],[-0.102,2.77],[-0.072,2.77],[-0.061,2.74],[-0.072,2.67],[-0.030,2.55,1.0],[-0.111,2.52],[-0.052,2.49],[-0.050,2.45],[-0.055,2.38],[-0.102,2.27],[-0.100,2.22],[-0.078,2.15],[-0.133,2.00],[-0.081,1.99],[-0.065,2.00],[-0.114,1.91],[-0.082,1.91],[-0.046,1.91],[-0.123,1.86],[-0.099,1.87],[-0.067,1.86],[-0.183,1.82,2.4],[-0.058,1.71],[-0.036,1.65,1.4],[-0.090,1.60],[-0.058,1.58],[-0.050,1.59],[-0.122,1.54],[-0.089,1.33],[-0.052,1.39],[-0.066,1.33],[-0.048,1.34],[-0.035,1.31]];
const F_nosig = [[0.038,4.31,0.9],[0.033,3.70,0.9],[0.035,3.50,0.9],[0.028,3.33],[0.035,3.29],[0.031,3.12],[0.040,3.18],[0.034,2.88],[0.038,2.93],[0.027,2.76],[0.031,2.64],[0.037,2.54],[0.029,2.47],[0.025,2.40],[0.017,2.37],[0.022,2.27],[0.031,2.25],[0.034,2.15],[0.027,2.06],[0.032,1.96],[0.021,1.87],[0.028,1.77],[0.019,1.70],[0.031,1.67],[0.025,1.58],[0.034,1.53],[0.022,1.43],[0.028,1.38],[0.017,1.33],
[-0.017,2.44,0.9],[-0.028,1.75],[-0.029,1.59],[-0.038,1.36],
[-0.258,0.76,2.5],[-0.163,0.57,1.7],[-0.136,1.08,1.7],[-0.122,0.86,1.5],[-0.107,0.60,1.4],[-0.100,1.09,1.4],[-0.101,0.58,1.4],[-0.088,0.93],[-0.087,0.78],[-0.085,0.52],[-0.078,1.14],[-0.075,1.26],[-0.070,0.88],[-0.066,0.97],[-0.065,0.23],[-0.064,0.76],[-0.062,0.48],[-0.059,1.09],[-0.055,0.61],[-0.052,0.88],[-0.050,0.18],[-0.048,0.37],[-0.046,1.02],[-0.044,0.73],[-0.041,1.19],[-0.038,0.49],[-0.035,0.88],[-0.034,0.20],[-0.032,0.61],[-0.029,1.00],[-0.026,0.35],[-0.025,0.71],[-0.022,0.90],[-0.019,0.13],[-0.018,0.52],[-0.015,1.09],[-0.013,0.32],[-0.011,0.66],[-0.009,1.16],[-0.007,0.08],[-0.005,0.40],[-0.003,0.04],
[0.005,0.18],[0.008,0.42],[0.011,0.61],[0.013,0.85],[0.015,1.09],[0.017,0.27],[0.019,0.52],[0.021,0.76],[0.024,0.97],[0.025,1.24],[0.028,0.13],[0.031,0.37],[0.034,0.61],[0.037,0.83],[0.040,1.05],[0.042,1.24],[0.045,0.47],[0.048,0.71],[0.051,0.90],[0.054,1.12],[0.057,0.32],[0.060,0.56],[0.062,0.80],[0.067,1.00],[0.070,1.24],[0.072,0.61],[0.077,0.85],[0.079,0.47],[0.083,1.09],[0.085,0.71],[0.090,0.90],[0.094,0.61],[0.097,1.21],[0.100,0.76],[0.105,0.32],[0.108,0.98],[0.111,0.85],[0.117,0.64],[0.123,1.12],[0.124,0.59],[0.131,0.49],[0.138,1.02],[0.141,1.17],[0.148,1.02],[0.150,0.54],[0.154,0.89],[0.178,0.89,1.4],[0.182,0.99,1.4],[0.189,1.29,1.4],[0.213,1.17,2.3],[0.250,0.55,2.3],[0.065,0.23],[0.045,0.18]];
const F_nosigDense = [[0.010,1.25],[0.018,1.27],[0.026,1.24],[0.034,1.26],[0.044,1.23],[0.056,1.27],[0.070,1.24],[0.088,1.26],[0.012,1.15],[0.020,1.13],[0.028,1.16],[0.038,1.14],[0.050,1.17],[0.062,1.13],[0.078,1.16],[0.009,1.05],[0.017,1.07],[0.025,1.04],[0.033,1.06],[0.043,1.03],[0.055,1.07],[0.068,1.04],[0.085,1.06],[0.011,0.95],[0.019,0.97],[0.027,0.93],[0.036,0.96],[0.047,0.94],[0.060,0.97],[0.075,0.93],[0.008,0.85],[0.016,0.87],[0.024,0.84],[0.032,0.86],[0.042,0.83],[0.054,0.87],[0.068,0.84],[0.010,0.75],[0.018,0.77],[0.026,0.73],[0.035,0.76],[0.046,0.74],[0.058,0.77],[0.072,0.73],[0.007,0.65],[0.015,0.67],[0.023,0.64],[0.031,0.66],[0.041,0.63],[0.052,0.67],[0.009,0.55],[0.017,0.57],[0.025,0.53],[0.034,0.56],[0.045,0.54],[0.006,0.45],[0.013,0.47],[0.021,0.44],[0.029,0.46],[0.039,0.43],[0.005,0.35],[0.012,0.37],[0.020,0.33],[0.028,0.36],[0.004,0.25],[0.010,0.27],[0.018,0.24],[0.003,0.12],[0.009,0.13],
[0.015,1.40],[0.024,1.42],[0.032,1.39],[0.018,1.55],[0.028,1.57],[0.016,1.70],[0.026,1.72],[0.020,1.85],[0.030,1.87],[0.022,2.00],[0.032,2.02],[0.024,2.20],[0.034,2.22],[0.026,2.45],[0.030,2.65],
[-0.060,1.20],[-0.046,1.22],[-0.032,1.19],[-0.020,1.21],[-0.056,1.00],[-0.042,1.02],[-0.028,0.99],[-0.016,1.01],[-0.050,0.80],[-0.038,0.82],[-0.026,0.79],[-0.046,0.60],[-0.034,0.62],[-0.022,0.59],[-0.040,0.40],[-0.028,0.42],[-0.016,0.39],[-0.030,0.25],[-0.020,0.27],[-0.010,0.24]];

// group counts shown in the legends: [up, nosig, down]
const A_counts = [47, 975, 169];
const B_counts = [226, 925, 40];
const C_counts = [213, 886, 92];
const D_counts = [34, 1055, 102];
const E_counts = [370, 791, 30];
const F_counts = [304, 848, 39];

// default VIP per group when a point has none: [up, nosig, down]
const A_vipDefault = [1.9, 1.5, 2.2];
const B_vipDefault = [1.4, 1.1, 1.6];
const C_vipDefault = [1.6, 1.3, 1.8];
const D_vipDefault = [1.5, 1.5, 2.0];
const E_vipDefault = [1.6, 1.3, 2.0];
const F_vipDefault = [1.5, 1.2, 1.8];

// VIP legend values
const A_vipLegend = [0.9, 1.8, 2.7, 3.6];
const B_vipLegend = [0.6, 1.3, 1.9, 2.6];
const C_vipLegend = [0.7, 1.4, 2.1, 2.8];
const D_vipLegend = [0.9, 1.7, 2.6, 3.5];
const E_vipLegend = [0.8, 1.6, 2.4, 3.2];
const F_vipLegend = [0.0, 0.9, 1.9, 2.8];

// axis ticks
const A_xTicks = [-0.3, -0.2, -0.1, 0, 0.1, 0.2, 0.3, 0.4];
const B_xTicks = [-0.2, -0.15, -0.1, -0.05, 0, 0.05, 0.1, 0.15, 0.2, 0.25];
const C_xTicks = [-0.3, -0.2, -0.1, 0, 0.1, 0.2, 0.3, 0.4];
const D_xTicks = [-0.25, -0.2, -0.15, -0.1, -0.05, 0, 0.05, 0.1, 0.15, 0.2];
const E_xTicks = [-0.5, -0.4, -0.3, -0.2, -0.1, 0, 0.1, 0.2, 0.3];
const F_xTicks = [-0.3, -0.2, -0.1, 0, 0.1, 0.2, 0.3];
const A_yTicks = [0, 1, 2, 3, 4, 5, 6];
const B_yTicks = [0, 0.5, 1, 1.5, 2, 2.5, 3, 3.5, 4, 4.5];
const C_yTicks = [0, 1, 2, 3, 4, 5, 6];
const D_yTicks = [0, 1, 2, 3, 4, 5, 6, 7];
const E_yTicks = [0, 1, 2, 3, 4, 5, 6, 7, 8];
const F_yTicks = [0, 1, 2, 3, 4, 5, 6];

const titles = ['T1 vs. Control', 'T2 vs. Control', 'T3 vs. Control', 'T3 vs. T2', 'T2 vs. T1', 'T3 vs. T1'];
const letters = ['(A)', '(B)', '(C)', '(D)', '(E)', '(F)'];
const groupNames = ['up', 'nosig', 'down'];
const thresholdP = 1.3;   // -log10(0.05)
const thresholdFC = 0;

// ---------------- LAYOUT (positions / styles) ----------------
const layout = [
  {L:164.5, T:146.4, R:1046,   B:1023,   xmin:-0.3159, xmax:0.4151, ymax:6,   ytx:103,   hl:[-0.3,0.395],    lx:50,   ly:77},
  {L:1391.6,T:146.4, R:2252.8, B:1022,   xmin:-0.2108, xmax:0.26,   ymax:4.5, ytx:1311,  hl:[-0.2,0.2475],   lx:1256, ly:79},
  {L:2609.7,T:141.4, R:3460.3, B:1024,   xmin:-0.3168, xmax:0.4148, ymax:6,   ytx:2549.5,hl:[-0.3,0.394],    lx:2481, ly:77},
  {L:162,   T:1254.2,R:1040.7, B:2140.2, xmin:-0.2607, xmax:0.2097, ymax:7,   ytx:103,   hl:[-0.25,0.197],   lx:49,   ly:1226},
  {L:1392.4,T:1264,  R:2279.7, B:2143.7, xmin:-0.5179, xmax:0.3171, ymax:8,   ytx:1331,  hl:[-0.4985,0.295], lx:1256, ly:1226},
  {L:2615,  T:1267.6,R:3470.5, B:2140.2, xmin:-0.3139, xmax:0.3132, ymax:6,   ytx:2565,  hl:[-0.3,0.296],    lx:2481, ly:1228}
];
const legendRadii = [[5,7,8.5,10.5],[5,7,8.5,10.5],[5,7,8.5,10.5],[5,7,8.5,10.5],[5,7,8.5,10.5],[2.4,5.5,8,10]];
const POINT_SCALE = 1.12;
const COLORS = ['#ff0000', '#808080', '#0000ff'];
const FONT = '"Liberation Sans", Arial, sans-serif';

const panelData = [
  {up:A_up, nosig:A_nosig.concat(A_nosigDense), down:A_down.concat(A_downDense), counts:A_counts, vd:A_vipDefault, vl:A_vipLegend, xt:A_xTicks, yt:A_yTicks},
  {up:B_up.concat(B_upDense), nosig:B_nosig.concat(B_nosigDense), down:B_down, counts:B_counts, vd:B_vipDefault, vl:B_vipLegend, xt:B_xTicks, yt:B_yTicks},
  {up:C_up.concat(C_upDense), nosig:C_nosig.concat(C_nosigDense), down:C_down, counts:C_counts, vd:C_vipDefault, vl:C_vipLegend, xt:C_xTicks, yt:C_yTicks},
  {up:D_up, nosig:D_nosig.concat(D_nosigDense), down:D_down, counts:D_counts, vd:D_vipDefault, vl:D_vipLegend, xt:D_xTicks, yt:D_yTicks},
  {up:E_up.concat(E_upDense), nosig:E_nosig.concat(E_nosigDense), down:E_down, counts:E_counts, vd:E_vipDefault, vl:E_vipLegend, xt:E_xTicks, yt:E_yTicks},
  {up:F_up.concat(F_upDense), nosig:F_nosig.concat(F_nosigDense), down:F_down, counts:F_counts, vd:F_vipDefault, vl:F_vipLegend, xt:F_xTicks, yt:F_yTicks}
];

function interp(v, xs, ys){
  let i = 0;
  while (i < xs.length - 2 && v > xs[i+1]) i++;
  const t = (v - xs[i]) / (xs[i+1] - xs[i]);
  return Math.max(2, ys[i] + t * (ys[i+1] - ys[i]));
}

const guidePlugin = {
  id: 'guides',
  afterDatasetsDraw(chart, args, o){
    const {ctx, chartArea:a, scales:{x, y}} = chart;
    ctx.save();
    ctx.strokeStyle = '#111'; ctx.lineWidth = 1.6; ctx.setLineDash([6,4]);
    ctx.beginPath();
    const yp = Math.round(y.getPixelForValue(o.hThresh)) + 0.5;
    ctx.moveTo(x.getPixelForValue(o.hl[0]), yp);
    ctx.lineTo(x.getPixelForValue(o.hl[1]), yp);
    const xp = Math.round(x.getPixelForValue(o.vThresh)) + 0.5;
    ctx.moveTo(xp, a.top + 6);
    ctx.lineTo(xp, a.bottom);
    ctx.stroke();
    ctx.restore();
  },
  afterDraw(chart){
    const {ctx, chartArea:a} = chart;
    ctx.save();
    ctx.strokeStyle = '#222'; ctx.lineWidth = 2; ctx.setLineDash([]);
    ctx.strokeRect(a.left, a.top, a.right - a.left, a.bottom - a.top);
    ctx.restore();
  }
};

function addDiv(cls, text, left, top, extra){
  const d = document.createElement('div');
  d.className = 'abs ' + cls;
  d.textContent = text;
  d.style.left = left + 'px';
  d.style.top = top + 'px';
  if (extra) Object.assign(d.style, extra);
  document.body.appendChild(d);
  return d;
}
function addDot(cx, cy, r, color){
  const d = document.createElement('div');
  d.className = 'dot';
  d.style.left = (cx - r) + 'px'; d.style.top = (cy - r) + 'px';
  d.style.width = (2*r) + 'px'; d.style.height = (2*r) + 'px';
  d.style.background = color;
  document.body.appendChild(d);
}

function buildPanel(i){
  const G = layout[i], P = panelData[i], radii = legendRadii[i];
  const cl = Math.round(G.ytx - 40), ct = Math.round(G.T - 30);
  const cw = Math.round(G.R + 30) - cl, ch = Math.round(G.B + 100) - ct;
  const yW = G.L - cl, padTop = G.T - ct, padRight = cw - (G.R - cl), xH = ch - (G.B - ct);
  const cv = document.createElement('canvas');
  cv.width = cw; cv.height = ch;
  cv.style.left = cl + 'px'; cv.style.top = ct + 'px';
  cv.style.width = cw + 'px'; cv.style.height = ch + 'px';
  document.body.appendChild(cv);

  const rad = v => interp(v, P.vl, radii) * POINT_SCALE;
  const toPts = (arr, dv) => arr.map(p => ({x:p[0], y:p[1], v:(p.length > 2 ? p[2] : dv)}));
  const ds = (arr, dv, color) => ({
    data: toPts(arr, dv), backgroundColor: color, borderWidth: 0,
    pointRadius: c => rad(c.raw.v), pointHoverRadius: c => rad(c.raw.v), pointStyle: 'circle'
  });
  const tickFont = {family: FONT, size: 27};
  const titleFont = {family: FONT, size: 34, weight: 'bold'};
  const xTitleFont = {family: FONT, size: 33, weight: 'bold'};

  new Chart(cv, {
    type: 'scatter',
    data: {datasets: [
      ds(P.up, P.vd[0], COLORS[0]),
      ds(P.down, P.vd[2], COLORS[2]),
      ds(P.nosig, P.vd[1], COLORS[1])
    ]},
    options: {
      responsive: false, animation: false, devicePixelRatio: 1, events: [],
      layout: {padding: {left: 0, top: padTop, right: padRight, bottom: 0}},
      plugins: {legend: {display: false}, tooltip: {enabled: false}, title: {display: false},
        guides: {hThresh: thresholdP, vThresh: thresholdFC, hl: G.hl}},
      scales: {
        x: {
          type: 'linear', min: G.xmin, max: G.xmax,
          afterFit: s => { s.height = xH; },
          afterBuildTicks: s => { s.ticks = P.xt.map(v => ({value: v})); },
          ticks: {font: tickFont, color: '#222', padding: 3, maxRotation: 0, autoSkip: false, callback: v => String(v)},
          grid: {drawOnChartArea: false, drawTicks: true, tickLength: 9, color: '#222', lineWidth: 2},
          border: {display: true, color: '#222', width: 2},
          title: {display: true, text: 'Log2FC', font: xTitleFont, color: '#000',
                  padding: {top: 0, bottom: 100 - 61 - 33*1.2/2}}
        },
        y: {
          type: 'linear', min: 0, max: G.ymax,
          afterFit: s => { s.width = yW; },
          afterBuildTicks: s => { s.ticks = P.yt.map(v => ({value: v})); },
          ticks: {font: tickFont, color: '#222', padding: 8, autoSkip: false, callback: v => String(v)},
          grid: {drawOnChartArea: false, drawTicks: true, tickLength: 10, color: '#222', lineWidth: 2},
          border: {display: true, color: '#222', width: 2},
          title: {display: true, text: '-Log10(pvalue)', font: titleFont, color: '#000',
                  padding: {top: 40 - 34*1.2/2, bottom: 0}}
        }
      }
    },
    plugins: [guidePlugin]
  });

  // panel letter and title
  addDiv('letter', letters[i], G.lx, G.ly - 35);
  addDiv('ptitle', titles[i], (G.L + G.R)/2 + 13, G.T - 51 - 20);

  // legend
  const lx = G.R + 34, ly = (G.T + G.B)/2 - 136;
  addDiv('lg lgb', 'Significant', lx, ly - 14);
  for (let k = 0; k < 3; k++){
    const cy = ly + 36 + 38*k;
    addDot(lx + 9, cy, 12.5, COLORS[k]);
    addDiv('lg', groupNames[k] + '(' + P.counts[k] + ')', lx + 28, cy - 14);
  }
  addDiv('lg lgb', 'VIP', lx + 1, ly + 174 - 14);
  for (let k = 0; k < 4; k++){
    const cy = ly + 209 + 36*k;
    addDot(lx + 10, cy, radii[k], '#000');
    addDiv('lg', P.vl[k].toFixed(1), lx + 35, cy - 14);
  }
}

for (let i = 0; i < 6; i++) buildPanel(i);
</script>
</body></html>
